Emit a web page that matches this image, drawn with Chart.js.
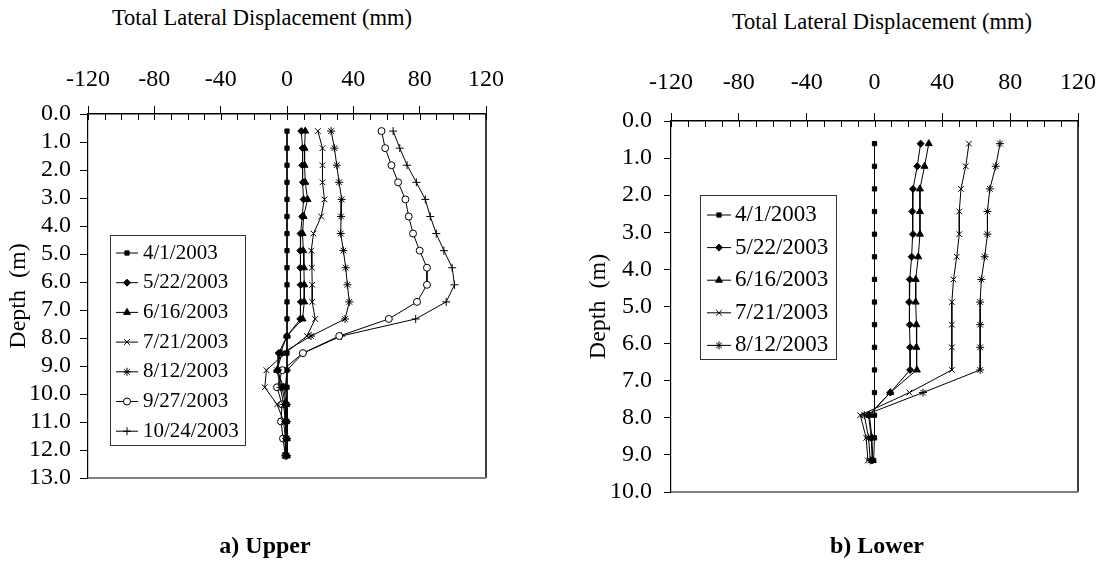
<!DOCTYPE html>
<html>
<head>
<meta charset="utf-8">
<title>Total Lateral Displacement</title>
<script src="https://cdn.jsdelivr.net/npm/chart.js"></script>
<style>
  body { margin: 0; background: #fff; width: 1112px; height: 582px; position: relative; overflow: hidden;
         font-family: "Liberation Serif", "Times New Roman", serif; color: #000; }
  canvas { position: absolute; top: 0; }
  .lbl { position: absolute; transform: translateX(-50%); white-space: nowrap; line-height: 24px; }
  .ttl { font-size: 22.5px; }
  .cap { font-size: 24px; font-weight: bold; }
</style>
</head>
<body>
<div class="lbl ttl" style="left:262px; top:6px;">Total Lateral Displacement (mm)</div>
<div class="lbl ttl" style="left:882px; top:10px;">Total Lateral Displacement (mm)</div>
<canvas id="upperChart" width="556" height="582" style="left:0"></canvas>
<canvas id="lowerChart" width="556" height="582" style="left:556px"></canvas>
<div class="lbl cap" style="left:265px; top:533px;">a) Upper</div>
<div class="lbl cap" style="left:877px; top:533px;">b) Lower</div>
<script>
// Axis ranges
const xMin = -120, xMax = 120, xStep = 40, xMinorStep = 10;

// Upper inclinometer (a)
const upperDepth = [0.61, 1.22, 1.83, 2.44, 3.05, 3.66, 4.27, 4.88, 5.49, 6.10,
                    6.71, 7.32, 7.93, 8.54, 9.15, 9.76, 10.37, 10.98, 11.59, 12.20];
const upperDates = ['4/1/2003', '5/22/2003', '6/16/2003', '7/21/2003', '8/12/2003', '9/27/2003', '10/24/2003'];
const upper0401 = [0, 0, 0, 0, 0, 0, 0, 0, 0, 0, 0, 0, 0, 0, 0, 0, 0, 0, 0, 0];
const upper0522 = [8.6, 9.4, 9.2, 9.6, 10, 9.2, 8.2, 8, 8, 8.2, 8.4, 8, 0, -5, -5.4, -3, -1, -1, -0.5, -0.5];
const upper0616 = [11, 10.6, 10.6, 11, 12.4, 10, 9.4, 9.8, 10.2, 10.4, 10.4, 9.4, 0, -4, -6, -2, -0.5, -0.5, 0, 0];
const upper0721 = [18.6, 21.4, 21.4, 21.4, 22.6, 20.6, 16, 14.6, 15, 15.2, 15.2, 17, 12, -1, -12.4, -13.4, -6, -2, -1, -1];
const upper0812 = [26.6, 28.6, 30, 31.4, 33, 32.6, 32.4, 34, 35.4, 36.4, 37.6, 35, 14.5, -3, -6, -4, -2, -1, -0.5, -0.5];
const upper0927 = [57, 59.2, 63, 67, 71.4, 73.4, 76, 80, 84.4, 84.4, 78.4, 61.4, 31.5, 9.6, -2.8, -6, -3, -3.6, -2.4, -1];
const upper1024 = [64, 68, 72.4, 78, 83.4, 86.4, 90, 94.6, 99.6, 101, 96, 77.6, 32.7, 9.7, 0, -1, 0, 0, 0, 0];
const upperSeries = [upper0401, upper0522, upper0616, upper0721, upper0812, upper0927, upper1024];

// Lower inclinometer (b)
const lowerDepth = [0.61, 1.22, 1.83, 2.44, 3.05, 3.66, 4.27, 4.88, 5.49, 6.10, 6.71, 7.32, 7.93, 8.54, 9.15];
const lowerDates = ['4/1/2003', '5/22/2003', '6/16/2003', '7/21/2003', '8/12/2003'];
const lower0401 = [0, 0, 0, 0, 0, 0, 0, 0, 0, 0, 0, 0, 0, 0, -0.5];
const lower0522 = [27.2, 25.2, 22.7, 22.3, 22.7, 21.9, 20.8, 20.4, 20.8, 21, 21, 9.3, -3.5, -1.9, -1.4];
const lower0616 = [32, 29.5, 26.8, 26.8, 26.8, 25.8, 24.3, 24.3, 24.7, 24.7, 25, 9.3, -3, -1.5, -1];
const lower0721 = [55.7, 53.8, 51, 50, 50, 48.5, 46.6, 45.6, 45.6, 45.6, 45.6, 20.6, -8.4, -4.9, -3.9];
const lower0812 = [74, 71.5, 68, 66.6, 66.6, 65, 63, 62.3, 62.3, 62.3, 62.3, 28.6, -6, -3.5, -2.5];
const lowerSeries = [lower0401, lower0522, lower0616, lower0721, lower0812];

// marker look per survey date
const markers = {
  '4/1/2003':   { pointStyle: 'rect',     radius: 3,   fill: '#000' },
  '5/22/2003':  { pointStyle: 'rectRot',  radius: 3.5, fill: '#000' },
  '6/16/2003':  { pointStyle: 'triangle', radius: 4,   fill: '#000' },
  '7/21/2003':  { pointStyle: 'crossRot', radius: 4,   fill: '#000' },
  '8/12/2003':  { pointStyle: 'star',     radius: 4,   fill: '#000' },
  '9/27/2003':  { pointStyle: 'circle',   radius: 3.5, fill: '#fff' },
  '10/24/2003': { pointStyle: 'cross',    radius: 4,   fill: '#000' }
};

Chart.defaults.font.family = "'Liberation Serif', 'Times New Roman', serif";
Chart.defaults.color = '#000';

function makeDatasets(dates, series, depth) {
  return dates.map((d, i) => ({
    label: d,
    data: series[i].map((v, k) => ({ x: v, y: depth[k] })),
    showLine: true,
    borderColor: '#000',
    borderWidth: 1,
    pointStyle: markers[d].pointStyle,
    pointRadius: markers[d].radius,
    pointBackgroundColor: markers[d].fill,
    pointBorderColor: '#000',
    pointBorderWidth: 1
  }));
}

// minor ticks, frame and legend box
const framePlugin = {
  id: 'frame',
  afterDraw(chart, args, opts) {
    const { ctx, chartArea: a } = chart;
    const x = chart.scales.x;
    ctx.save();
    ctx.strokeStyle = '#000';
    ctx.lineWidth = 1;
    ctx.beginPath();
    for (let v = xMin; v <= xMax; v += xMinorStep) {
      const px = Math.round(x.getPixelForValue(v)) + 0.5;
      ctx.moveTo(px, a.top);
      ctx.lineTo(px, a.top + 6);
    }
    ctx.stroke();

    // right and bottom edges
    ctx.lineWidth = 1.5;
    ctx.beginPath();
    ctx.moveTo(a.right, a.top);
    ctx.lineTo(a.right, a.bottom);
    ctx.stroke();
    ctx.strokeStyle = '#808080';
    ctx.lineWidth = 2;
    ctx.beginPath();
    ctx.moveTo(a.left, a.bottom);
    ctx.lineTo(a.right, a.bottom);
    ctx.stroke();

    // legend
    const L = opts.legend;
    ctx.fillStyle = '#fff';
    ctx.fillRect(L.x, L.y, L.w, L.h);
    ctx.strokeStyle = '#333';
    ctx.lineWidth = 1;
    ctx.strokeRect(L.x + 0.5, L.y + 0.5, L.w, L.h);
    ctx.font = L.fontSize + "px 'Liberation Serif', 'Times New Roman', serif";
    ctx.textBaseline = 'middle';
    chart.data.datasets.forEach((ds, i) => {
      const yy = L.row0 + i * L.rowGap;
      ctx.strokeStyle = '#000';
      ctx.lineWidth = 1;
      ctx.beginPath();
      ctx.moveTo(L.line0, yy);
      ctx.lineTo(L.line1, yy);
      ctx.stroke();
      ctx.fillStyle = ds.pointBackgroundColor;
      Chart.helpers.drawPoint(ctx, { pointStyle: ds.pointStyle, radius: ds.pointRadius, borderWidth: 1, rotation: 0 },
        (L.line0 + L.line1) / 2, yy);
      ctx.fillStyle = '#000';
      ctx.fillText(ds.label, L.textX, yy);
    });
    ctx.restore();
  }
};

function makeChart(id, cfg) {
  return new Chart(document.getElementById(id), {
    type: 'scatter',
    data: { datasets: makeDatasets(cfg.dates, cfg.series, cfg.depth) },
    options: {
      responsive: false,
      animation: false,
      devicePixelRatio: 1,
      layout: { padding: cfg.padding },
      plugins: {
        legend: { display: false },
        tooltip: { enabled: false },
        frame: { legend: cfg.legend }
      },
      scales: {
        x: {
          type: 'linear',
          position: 'top',
          min: xMin,
          max: xMax,
          afterFit: s => { s.height = cfg.top; },
          ticks: { stepSize: xStep, autoSkip: false, maxRotation: 0, padding: cfg.xPad,
                   font: { size: 24 }, color: '#000' },
          grid: { drawOnChartArea: false, color: '#000', tickLength: 8, tickWidth: 1 },
          border: { color: '#000', width: 1.5 }
        },
        y: {
          type: 'linear',
          position: 'left',
          reverse: true,
          min: 0,
          max: cfg.yMax,
          afterFit: s => { s.width = cfg.left; },
          ticks: { stepSize: 1, autoSkip: false, padding: cfg.yPad, font: { size: 24 }, color: '#000',
                   callback: v => v.toFixed(1) },
          grid: { drawOnChartArea: false, color: '#000', tickLength: cfg.yTick, tickWidth: 1 },
          border: { color: '#000', width: 1.2 },
          title: { display: true, text: 'Depth  (m)', font: { size: 24 }, padding: { top: cfg.titlePad, bottom: 0 } }
        }
      }
    },
    plugins: [framePlugin]
  });
}

makeChart('upperChart', {
  dates: upperDates, series: upperSeries, depth: upperDepth, yMax: 13,
  padding: { left: 0, top: 0, right: 70, bottom: 104 },
  top: 114, left: 88, xPad: 12, yPad: 9, yTick: 8, titlePad: 4,
  legend: { x: 110, y: 235, w: 135, h: 210, row0: 253, rowGap: 29.7,
            line0: 116, line1: 138, textX: 143, fontSize: 21 }
});

makeChart('lowerChart', {
  dates: lowerDates, series: lowerSeries, depth: lowerDepth, yMax: 10,
  padding: { left: 0, top: 0, right: 27, bottom: 90 },
  top: 121, left: 115, xPad: 16, yPad: 12, yTick: 7, titlePad: 28,
  legend: { x: 144, y: 195, w: 136, h: 164, row0: 215, rowGap: 32.6,
            line0: 151, line1: 175, textX: 179, fontSize: 23 }
});
</script>
</body>
</html>
